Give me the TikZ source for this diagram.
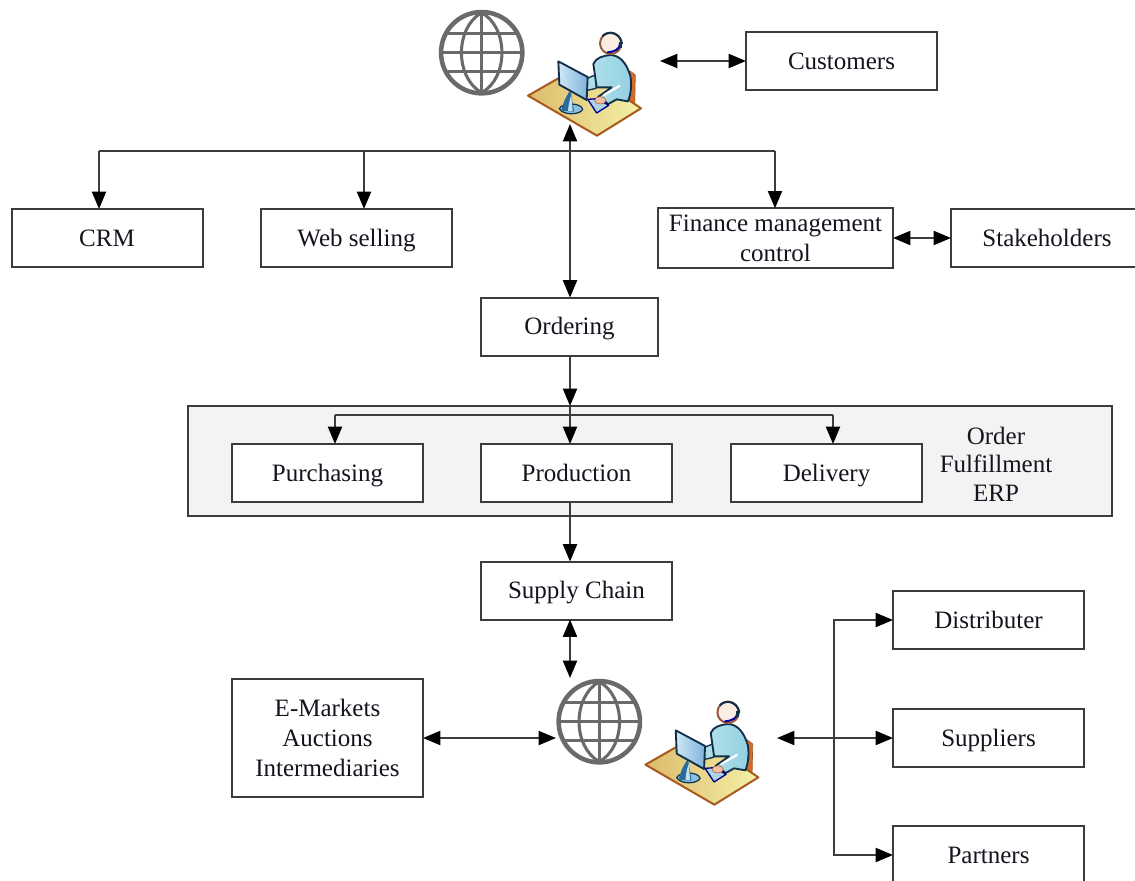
\documentclass[tikz,border=0pt]{standalone}
\usepackage{fontspec}
\setmainfont{Liberation Serif}
\usetikzlibrary{arrows.meta}
\definecolor{linec}{HTML}{3C3C3C}
\definecolor{txtc}{HTML}{14141E}
\definecolor{panelc}{HTML}{F3F3F3}
\definecolor{globec}{HTML}{6A6A6A}
\definecolor{deskedge}{HTML}{A85A1E}
\definecolor{chairc}{HTML}{D9692B}
\definecolor{outl}{HTML}{12304A}
\definecolor{deskA}{HTML}{DDBB6C}
\definecolor{deskB}{HTML}{F3F1A6}
\definecolor{bodyc}{HTML}{AEDFE9}
\definecolor{bodyd}{HTML}{93D0E2}
\definecolor{screenA}{HTML}{CFE8F5}
\definecolor{screenB}{HTML}{7FB2DC}
\definecolor{basec}{HTML}{8CC0DC}
\definecolor{standc}{HTML}{2A6A9E}
\definecolor{facec}{HTML}{FBEDE4}
\definecolor{handc}{HTML}{F3BFA0}
\definecolor{ringc}{HTML}{9A5A3C}
\tikzset{
  x=0.75pt,y=-0.75pt,
  stdbox/.style={draw=linec,line width=1.5pt,fill=white,text=txtc,align=center,inner sep=0pt,outer sep=0pt,
    minimum width=143.25pt,minimum height=43.5pt,font=\fontsize{18.75}{22.5}\selectfont},
  wire/.style={draw=linec,line width=1.5pt},
  onehead/.style={wire,-{Triangle[length=13pt,width=10.5pt,color=black]}},
  twohead/.style={wire,{Triangle[length=13pt,width=10.5pt,color=black]}-{Triangle[length=13pt,width=10.5pt,color=black]}},
  globering/.style={circle,draw=globec,line width=3.4pt,inner sep=0pt,outer sep=2pt,minimum size=61pt},
}
\newcommand{\st}{\rule[-5pt]{0pt}{22pt}}
\newcommand{\globelines}[1]{%
  \begin{scope}[shift={(#1)},globec,line width=2.3pt]
    \draw (0,-40) -- (0,40);
    \draw (-40,0) -- (40,0);
    \draw (-35,-19) -- (35,-19);
    \draw (-35,19) -- (35,19);
    \draw (0,-40) .. controls (-27,-25) and (-27,25) .. (0,40);
    \draw (0,-40) .. controls (27,-25) and (27,25) .. (0,40);
  \end{scope}}
\newcommand{\agenticon}[1]{%
  \begin{scope}[shift={(#1)},x=.25pt,y=-.25pt]
    % chair
    \path[fill=chairc,draw=deskedge,line width=.5pt] (630,213) -- (646,225) -- (644,316) -- (620,305) -- cycle;
    % desk
    \path[left color=deskA,right color=deskB,draw=deskedge,line width=1.5pt,line join=round]
      (324,287) -- (415,235) -- (545,245) -- (663,325) -- (531,407) -- cycle;
    % back arm
    \path[fill=bodyc,draw=outl,line width=1pt,line join=round]
      (495,238) -- (532,222) -- (528,265) -- (498,272) -- cycle;
    % body
    \path[left color=bodyc,right color=bodyd,draw=outl,line width=1.4pt,line join=round]
      (520,192) .. controls (528,172) and (550,168) .. (570,165)
      .. controls (600,165) and (620,190) .. (631,228)
      .. controls (636,255) and (632,285) .. (624,304)
      -- (590,298) -- (565,312) -- (535,290) -- (575,262) -- (530,262) -- cycle;
    \draw[white,line width=1.6pt,line cap=round] (552,285) -- (598,258);
    % head
    \path[fill=facec,draw=ringc,line width=1.5pt] (572,130) circle [radius=32];
    \draw[outl,line width=1.5pt,line cap=round] (548,108) .. controls (565,90) and (600,98) .. (606,130);
    \draw[blue!60!black,line width=1.5pt,line cap=round] (600,132) .. controls (598,148) and (585,155) .. (563,157);
    \fill[outl] (597,126) rectangle (606,144);
    % keyboard
    \path[fill=basec!70!white,draw=blue!55!black,line width=1pt,line join=round]
      (503,298) -- (530,339) -- (566,316) -- (532,296) -- cycle;
    \path[fill=handc,draw=ringc,line width=.4pt] (541,301) ellipse [x radius=17,y radius=11];
    % monitor stand
    \path[fill=basec,draw=outl,line width=.9pt] (418,326) .. controls (425,308) and (482,306) .. (488,328) .. controls (480,346) and (428,346) .. (418,326) -- cycle;
    \path[fill=standc] (424,332) .. controls (430,305) and (440,285) .. (452,270) -- (462,335) -- cycle;
    \path[fill=screenA!80!basec] (444,332) .. controls (446,310) and (450,295) .. (454,285) -- (458,334) -- cycle;
    % monitor
    \path[left color=screenA,right color=screenB,draw=outl,line width=1.4pt,line join=round]
      (415,184) -- (503,231) -- (500,300) -- (418,254) -- cycle;
  \end{scope}}
\begin{document}
\begin{tikzpicture}
\useasboundingbox (0,0) rectangle (1135,881);
\clip (0,0) rectangle (1135,881);
\fill[white] (0,0) rectangle (1135,881);

% panel
\node[draw=linec,line width=1.5pt,fill=panelc,inner sep=0pt,outer sep=0pt,minimum width=693pt,minimum height=82.5pt] (panel) at (650,461) {};
\node[text=txtc,align=center,inner sep=0pt,font=\fontsize{18.75}{21.5}\selectfont] (erp) at (996,464) {Order\\Fulfillment\\ERP};

% boxes
\node[stdbox] (customers) at (841.5,61.5) {\st Customers};
\node[stdbox] (crm) at (107,238) {\st CRM};
\node[stdbox] (web) at (356.5,238) {\st Web selling};
\node[stdbox,minimum width=176.25pt] (finance) at (775.5,238) {\st Finance management\\\st control};
\node[stdbox,minimum width=144pt] (stake) at (1047,238) {\st Stakeholders};
\node[stdbox,minimum width=132.75pt] (ordering) at (569.5,326.5) {\st Ordering};
\node[stdbox] (purch) at (327.5,473) {\st Purchasing};
\node[stdbox] (prod) at (576.5,473) {\st Production};
\node[stdbox] (deliv) at (826.5,473) {\st Delivery};
\node[stdbox] (chain) at (576.5,590.5) {\st Supply Chain};
\node[stdbox,minimum height=88.5pt] (emark) at (327.5,738) {\st E-Markets\\\st Auctions\\\st Intermediaries};
\node[stdbox] (dist) at (988.5,620) {\st Distributer};
\node[stdbox] (supp) at (988.5,738) {\st Suppliers};
\node[stdbox] (part) at (988.5,855) {\st Partners};

% icons
\node[globering] (globeA) at (481.7,52.7) {};
\globelines{481.7,52.7}
\node[globering] (globeB) at (599.3,721.7) {};
\globelines{599.3,721.7}
\agenticon{420,0}
\agenticon{537.4,669}

% free ends
\coordinate (agentAright) at (660,61);
\coordinate (agentAbottom) at (570,124);
\coordinate (agentBright) at (777,738);
\coordinate (busA) at (99,151);
\coordinate (busB) at (364,151);
\coordinate (busC) at (775,151);
\coordinate (busD) at (335,415);
\coordinate (busF) at (833,415);
\coordinate (spine) at (834,738);
\coordinate (globeBtop) at (570,678);

% connectors
\draw[twohead] (agentAright) -- (customers.west |- agentAright);
\draw[twohead] (agentAbottom) -- (agentAbottom |- ordering.north);
\draw[wire] (busA) -- (busC);
\draw[onehead] (busA) -- (busA |- crm.north);
\draw[onehead] (busB) -- (busB |- web.north);
\draw[onehead] (busC) -- (busC |- finance.north);
\draw[twohead] (finance.east) -- (stake.west);
\draw[onehead] (agentAbottom |- ordering.south) -- (agentAbottom |- panel.north);
\draw[wire] (busD) -- (busF);
\draw[onehead] (busD) -- (busD |- purch.north);
\draw[onehead] (agentAbottom |- panel.north) -- (agentAbottom |- prod.north);
\draw[onehead] (busF) -- (busF |- deliv.north);
\draw[onehead] (agentAbottom |- prod.south) -- (agentAbottom |- chain.north);
\draw[twohead] (agentAbottom |- chain.south) -- (globeBtop);
\draw[twohead] (emark.east) -- (globeB.west |- emark.east);
\draw[twohead] (agentBright) -- (supp.west);
\draw[onehead] (spine) -- (spine |- dist.west) -- (dist.west);
\draw[onehead] (spine) -- (spine |- part.west) -- (part.west);
\end{tikzpicture}
\end{document}
